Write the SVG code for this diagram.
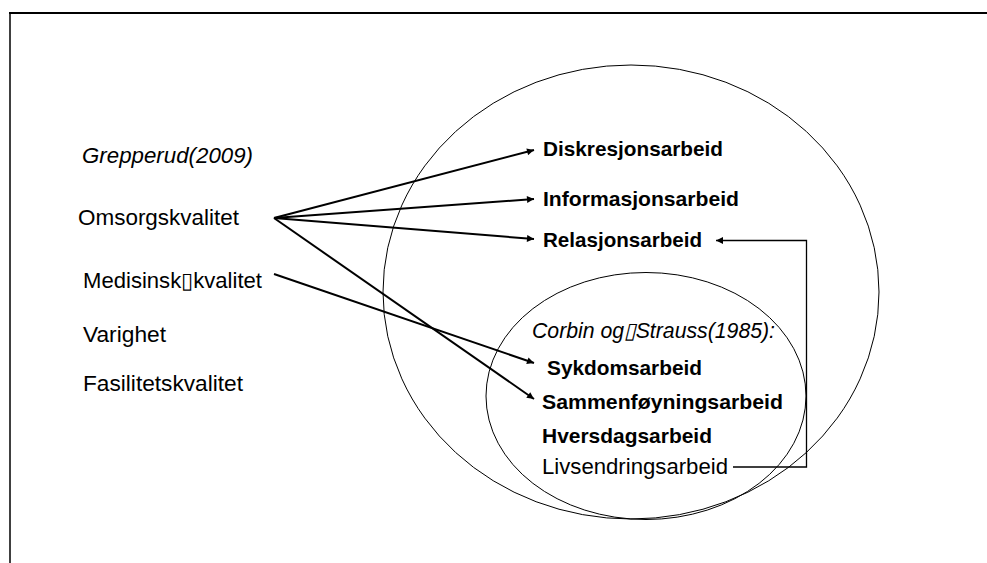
<svg xmlns="http://www.w3.org/2000/svg" width="987" height="563" viewBox="0 0 987 563">
<defs>
<marker id="ah" viewBox="0 0 10 10" refX="10" refY="5" markerWidth="9" markerHeight="7" markerUnits="userSpaceOnUse" orient="auto"><path d="M0,0 L10,5 L0,10 z" fill="#000"/></marker>
<style>
text{font-family:"Liberation Sans",Arial,sans-serif;font-size:22px;fill:#000}
.b{font-weight:bold;font-size:21px}
.i{font-style:italic}
.ell{fill:none;stroke:#000;stroke-width:1}
.c{fill:none;stroke:#000;stroke-width:2}
.t{fill:none;stroke:#000;stroke-width:1.3}
</style>
</defs>
<rect width="987" height="563" fill="#fff"/>
<g id="frame">
<line x1="9" y1="13" x2="987" y2="13" stroke="#000" stroke-width="2"/>
<line x1="10" y1="12" x2="10" y2="563" stroke="#000" stroke-width="1.5"/>
</g>
<g id="outer"><ellipse class="ell" cx="631" cy="292" rx="248" ry="227"/></g>
<g id="inner"><ellipse class="ell" cx="646" cy="396" rx="160" ry="123.5"/></g>
<g id="grepperud"><text class="i" x="82" y="163" textLength="171" lengthAdjust="spacingAndGlyphs">Grepperud(2009)</text></g>
<g id="omsorg"><text x="78" y="225" textLength="161" lengthAdjust="spacingAndGlyphs">Omsorgskvalitet</text></g>
<g id="medisinsk"><text x="83" y="288" textLength="179" lengthAdjust="spacingAndGlyphs">Medisinsk▯kvalitet</text></g>
<g id="varighet"><text x="83" y="342" textLength="83" lengthAdjust="spacingAndGlyphs">Varighet</text></g>
<g id="fasilitet"><text x="83" y="391" textLength="160" lengthAdjust="spacingAndGlyphs">Fasilitetskvalitet</text></g>
<g id="diskresjon"><text class="b" x="543" y="156" textLength="180" lengthAdjust="spacingAndGlyphs">Diskresjonsarbeid</text></g>
<g id="informasjon"><text class="b" x="543" y="206" textLength="196" lengthAdjust="spacingAndGlyphs">Informasjonsarbeid</text></g>
<g id="relasjon"><text class="b" x="543" y="247" textLength="159" lengthAdjust="spacingAndGlyphs">Relasjonsarbeid</text></g>
<g id="corbin"><text class="i" x="532" y="338" textLength="243" lengthAdjust="spacingAndGlyphs">Corbin og▯Strauss(1985):</text></g>
<g id="sykdom"><text class="b" x="547" y="375" textLength="155" lengthAdjust="spacingAndGlyphs">Sykdomsarbeid</text></g>
<g id="sammen"><text class="b" x="542" y="409" textLength="241" lengthAdjust="spacingAndGlyphs">Sammenføyningsarbeid</text></g>
<g id="hversdag"><text class="b" x="542" y="443" textLength="170" lengthAdjust="spacingAndGlyphs">Hversdagsarbeid</text></g>
<g id="livsendring"><text x="542" y="474" textLength="186" lengthAdjust="spacingAndGlyphs">Livsendringsarbeid</text></g>
<g id="connectors">
<line class="c" x1="274" y1="218" x2="534" y2="150" marker-end="url(#ah)"/>
<line class="c" x1="274" y1="218" x2="534" y2="199" marker-end="url(#ah)"/>
<line class="c" x1="274" y1="218" x2="534" y2="239" marker-end="url(#ah)"/>
<line class="c" x1="274" y1="218" x2="534" y2="399" marker-end="url(#ah)"/>
<line class="c" x1="274" y1="274" x2="534" y2="363" marker-end="url(#ah)"/>
<polyline class="t" points="733,467 806.5,467 806.5,240.5 716,240.5" marker-end="url(#ah)"/>
</g>
</svg>
